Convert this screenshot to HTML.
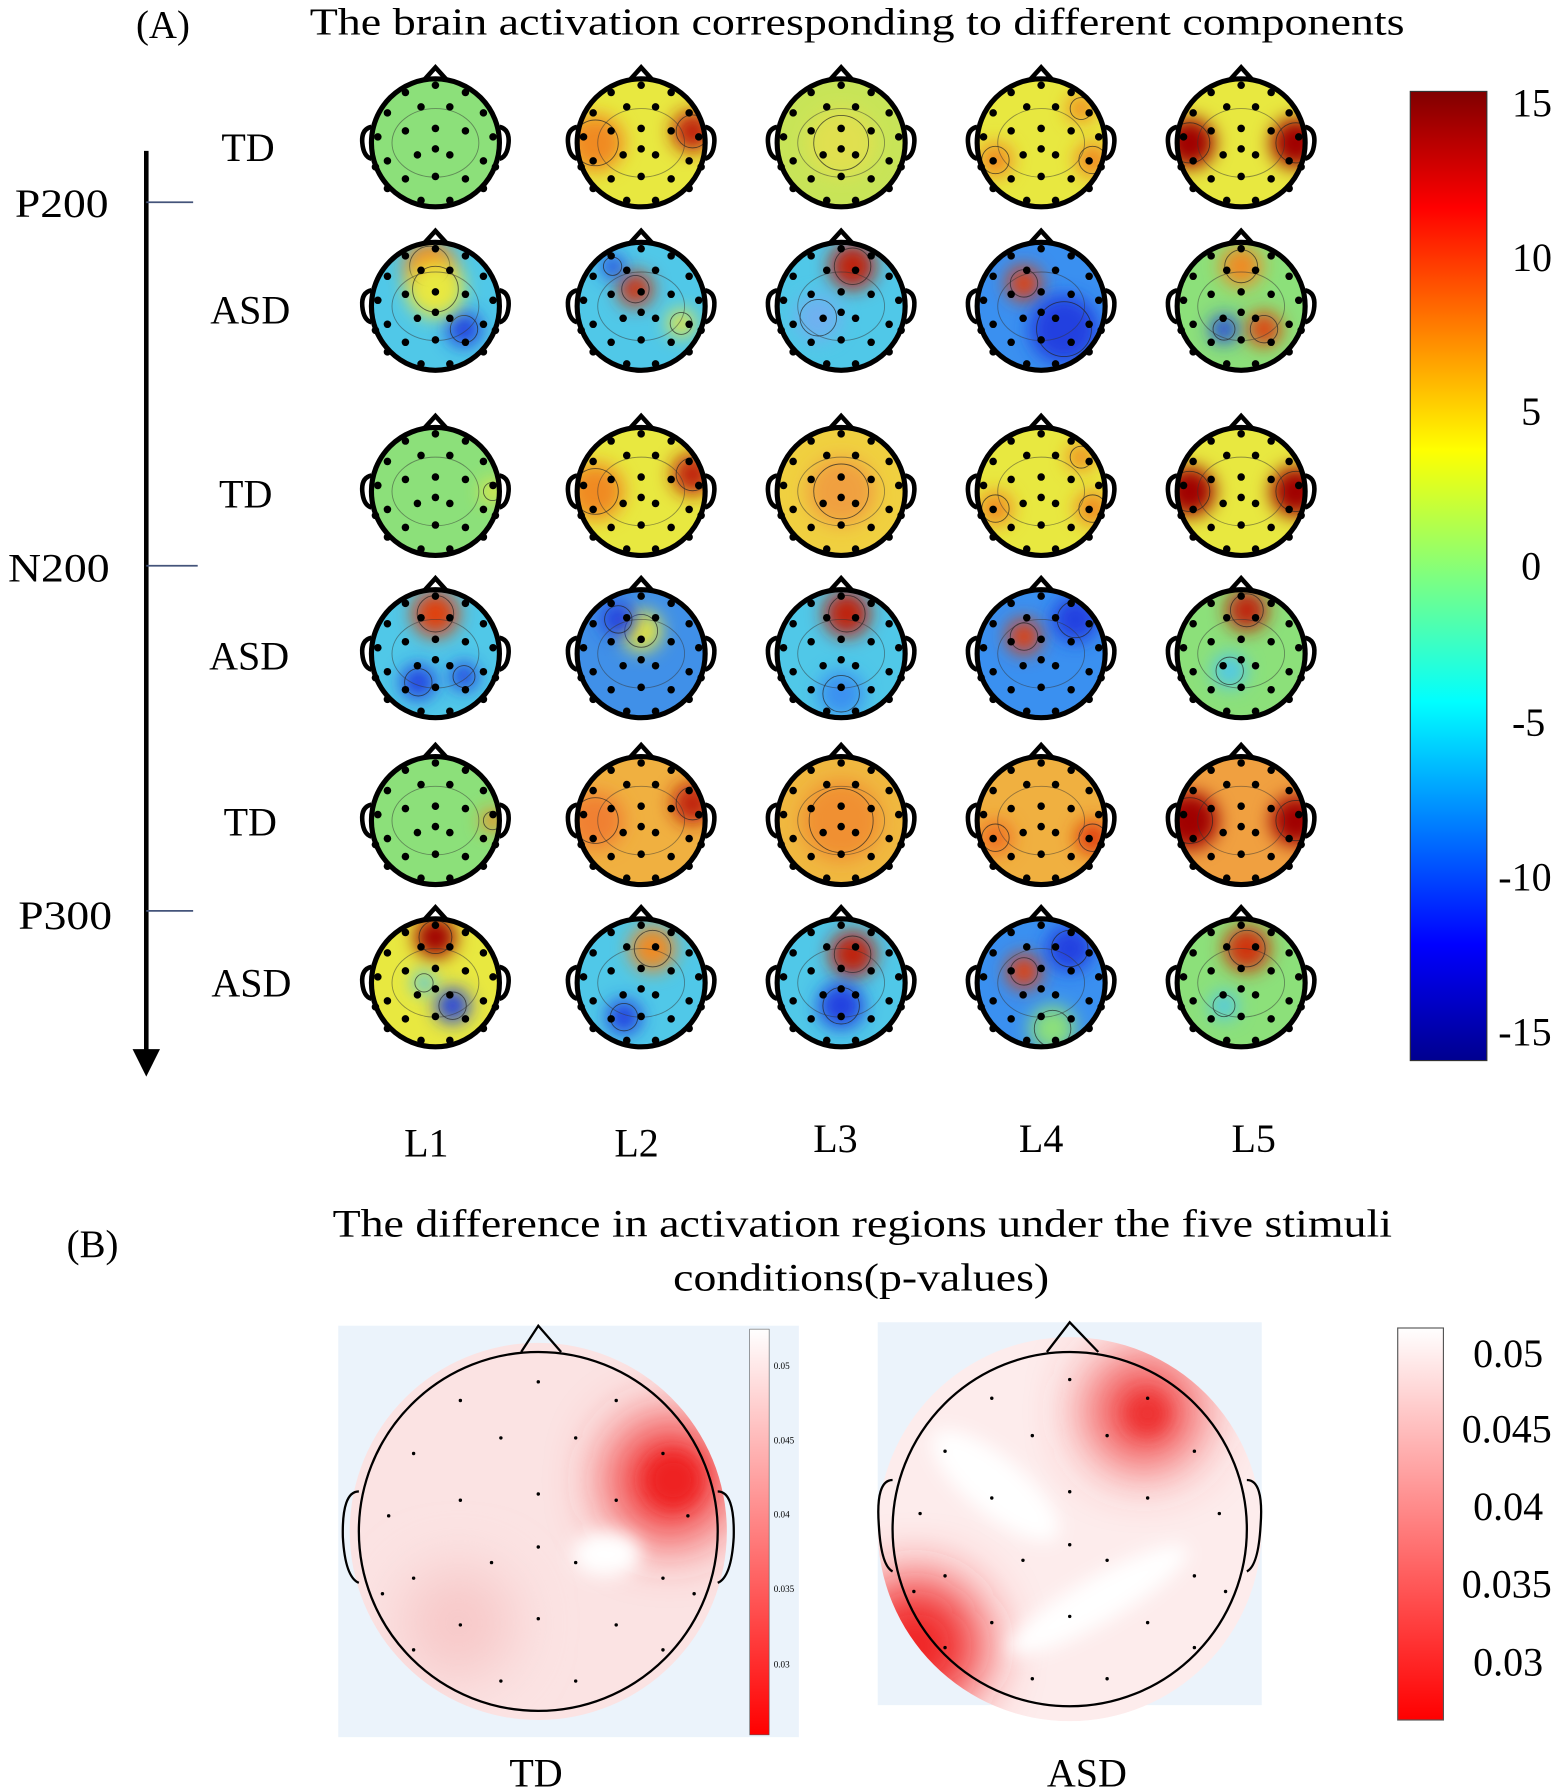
<!DOCTYPE html>
<html><head><meta charset="utf-8"><style>
html,body{margin:0;padding:0;background:#fff}
svg{display:block}
text{font-family:"Liberation Serif",serif;fill:#000}
</style></head><body>
<svg id="s" width="1568" height="1792" viewBox="0 0 1370 1568" xmlns="http://www.w3.org/2000/svg">
<defs>
<linearGradient id="jet" x1="0" y1="1" x2="0" y2="0">
<stop offset="0" stop-color="#00008f"/><stop offset="0.12" stop-color="#0000ff"/>
<stop offset="0.37" stop-color="#00ffff"/><stop offset="0.5" stop-color="#7fff7f"/>
<stop offset="0.63" stop-color="#ffff00"/><stop offset="0.88" stop-color="#ff0000"/>
<stop offset="1" stop-color="#800000"/></linearGradient>
<linearGradient id="wr" x1="0" y1="0" x2="0" y2="1">
<stop offset="0" stop-color="#ffffff"/><stop offset="1" stop-color="#ff0000"/></linearGradient>
<filter id="bl" x="-100%" y="-100%" width="300%" height="300%"><feGaussianBlur stdDeviation="8"/></filter>
<filter id="bl2" x="-100%" y="-100%" width="300%" height="300%"><feGaussianBlur stdDeviation="25"/></filter>
</defs>
<text x="118" y="33" font-size="34">(A)</text>
<text x="270" y="30" font-size="33" textLength="958" lengthAdjust="spacingAndGlyphs">The brain activation corresponding to different components</text>
<line x1="127" y1="132" x2="127" y2="920" stroke="#000" stroke-width="4"/>
<polygon points="115,918 139,918 127,942" fill="#000"/>
<line x1="127" y1="177" x2="168" y2="177" stroke="#44547a" stroke-width="1.5"/>
<line x1="127" y1="495" x2="172" y2="495" stroke="#44547a" stroke-width="1.5"/>
<line x1="127" y1="797" x2="168" y2="797" stroke="#44547a" stroke-width="1.5"/>
<text x="12" y="190" font-size="35" textLength="82" lengthAdjust="spacingAndGlyphs">P200</text>
<text x="6" y="509" font-size="35" textLength="89" lengthAdjust="spacingAndGlyphs">N200</text>
<text x="15" y="813" font-size="35" textLength="82" lengthAdjust="spacingAndGlyphs">P300</text>
<g font-size="35" text-anchor="middle">
<text x="216" y="141">TD</text><text x="218" y="283">ASD</text>
<text x="214" y="444">TD</text><text x="217" y="586">ASD</text>
<text x="218" y="731">TD</text><text x="219" y="872">ASD</text>
<text x="372" y="1012">L1</text><text x="556" y="1012">L2</text><text x="730" y="1008">L3</text><text x="910" y="1008">L4</text><text x="1096" y="1008">L5</text>
</g>
<g id="topo"></g>
<rect x="1233" y="80" width="67" height="848" fill="url(#jet)" stroke="#333"/>
<g font-size="35">
<text x="1322" y="102">15</text><text x="1322" y="237">10</text><text x="1330" y="372">5</text>
<text x="1330" y="507">0</text><text x="1322" y="644">-5</text><text x="1310" y="779">-10</text><text x="1310" y="915">-15</text>
</g>
<text x="80" y="1100" font-size="34" text-anchor="middle">(B)</text>
<text x="290" y="1082" font-size="34" textLength="927" lengthAdjust="spacingAndGlyphs">The difference in activation regions under the five stimuli</text>
<text x="588" y="1129" font-size="34" textLength="329" lengthAdjust="spacingAndGlyphs">conditions(p-values)</text>
<rect x="295" y="1160" width="403" height="360" fill="#ebf3fb"/>
<clipPath id="c1"><circle cx="470" cy="1340" r="165"/></clipPath>
<circle cx="470" cy="1340" r="165" fill="#fbe3e3"/>
<g clip-path="url(#c1)">
<circle cx="585" cy="1295" r="55" fill="#f03030" filter="url(#bl2)"/>
<circle cx="588" cy="1295" r="25" fill="#ee2020" filter="url(#bl)"/>
<circle cx="400" cy="1420" r="50" fill="#f7c8c8" filter="url(#bl2)"/>
<ellipse cx="530" cy="1360" rx="30" ry="20" fill="#fff" filter="url(#bl)"/>
</g>
<circle cx="470" cy="1340" r="157" fill="none" stroke="#000" stroke-width="2"/>
<polyline points="455,1183 470,1160 490,1183" fill="none" stroke="#000" stroke-width="2"/>
<path d="M313,1305 q-15,0 -14,40 q2,35 14,40" fill="none" stroke="#000" stroke-width="2"/>
<path d="M627,1305 q15,0 14,40 q-2,35 -14,40" fill="none" stroke="#000" stroke-width="2"/>
<rect x="655" y="1163" width="17" height="355" fill="url(#wr)" stroke="#555" stroke-width="0.5"/>
<g font-size="8" font-family="Liberation Sans"><text x="676" y="1198">0.05</text><text x="676" y="1263">0.045</text><text x="676" y="1328">0.04</text><text x="676" y="1393">0.035</text><text x="676" y="1459">0.03</text></g>
<text x="468" y="1563" font-size="35" text-anchor="middle">TD</text>
<rect x="767" y="1157" width="336" height="335" fill="#ebf3fb"/>
<clipPath id="c2"><circle cx="935" cy="1338" r="168"/></clipPath>
<circle cx="935" cy="1338" r="168" fill="#fdecec"/>
<g clip-path="url(#c2)">
<circle cx="1000" cy="1235" r="50" fill="#f04040" filter="url(#bl2)"/>
<circle cx="1003" cy="1237" r="18" fill="#ee3030" filter="url(#bl)"/>
<circle cx="800" cy="1440" r="60" fill="#f02020" filter="url(#bl2)"/>
<ellipse cx="870" cy="1300" rx="70" ry="25" transform="rotate(40 870 1300)" fill="#fff" filter="url(#bl)"/>
<ellipse cx="960" cy="1400" rx="90" ry="20" transform="rotate(-30 960 1400)" fill="#fff" filter="url(#bl)"/>
</g>
<circle cx="935" cy="1338" r="155" fill="none" stroke="#000" stroke-width="2"/>
<polyline points="915,1183 935,1157 960,1183" fill="none" stroke="#000" stroke-width="2"/>
<path d="M780,1295 q-15,0 -12,40 q2,35 12,40" fill="none" stroke="#000" stroke-width="2"/>
<path d="M1090,1295 q15,0 12,40 q-2,35 -12,40" fill="none" stroke="#000" stroke-width="2"/>
<rect x="1222" y="1162" width="40" height="343" fill="url(#wr)" stroke="#555"/>
<g font-size="35"><text x="1288" y="1196">0.05</text><text x="1278" y="1262">0.045</text><text x="1288" y="1330">0.04</text><text x="1278" y="1398">0.035</text><text x="1288" y="1466">0.03</text></g>
<text x="950" y="1563" font-size="35" text-anchor="middle">ASD</text>
<g id="dots2"></g>
</svg>
<script>
var ns="http://www.w3.org/2000/svg",g=document.getElementById("topo");
function el(t,a,p){var e=document.createElementNS(ns,t);for(var k in a)e.setAttribute(k,a[k]);(p||g).appendChild(e);return e;}
var cx=[380,560,735,910,1085],cy=[125,268,430,572,718,860];
var R="#a00000",O="#f08a20",Y="#e8e840",B="#2040e0",C="#50c8e8",G="#8ce07a",Bl="#3a90f0";
var data=[
 [[G,[]],[Y,[[45,-10,18,"#c02010"],[-40,0,25,O]]],["#c8e458",[[0,0,30,"#e0e050"]]],[Y,[[-40,15,15,O],[45,15,15,O],[35,-30,12,O]]],[Y,[[-45,0,22,R],[48,0,22,R]]]],
 [[C,[[-5,-35,22,O],[25,20,15,B],[0,-15,25,Y]]],[C,[[-5,-15,15,"#d03010"],[-25,-35,10,B],[35,15,12,Y]]],[C,[[10,-35,20,"#c02010"],[-20,10,20,"#70b0f0"]]],[Bl,[[-15,-20,15,"#e04010"],[20,20,30,B]]],[G,[[0,-35,18,O],[20,20,15,"#e04010"],[-15,20,12,B]]]],
 [[G,[[50,0,10,Y]]],[Y,[[45,-15,18,"#c02010"],[-40,0,25,O]]],["#f0d040",[[0,0,30,"#f0a040"]]],[Y,[[-40,15,15,O],[45,15,15,O],[35,-30,12,O]]],[Y,[[-45,0,22,R],[48,0,22,R]]]],
 [[C,[[0,-35,20,"#e04010"],[-15,25,15,B],[25,20,12,B]]],["#4090e8",[[0,-20,18,Y],[-20,-30,15,B]]],[C,[[5,-35,20,"#c02010"],[0,35,20,Bl]]],[Bl,[[-15,-15,15,"#e04010"],[30,-30,20,B]]],[G,[[5,-38,18,"#c02010"],[-10,15,15,C]]]],
 [[G,[[50,0,10,O]]],["#f0b040",[[45,-15,18,"#c02010"],[-40,0,25,"#f08030"]]],["#f0b840",[[0,0,35,"#f09030"]]],["#f0b040",[[-40,15,15,"#f07020"],[45,15,15,"#e04010"]]],["#f0a040",[[-45,0,25,R],[48,0,22,R]]]],
 [[Y,[[0,-40,18,R],[15,20,15,B],[-10,0,10,C]]],[C,[[10,-30,20,O],[-15,30,15,B]]],[C,[[10,-25,20,"#c02010"],[0,20,20,B]]],[Bl,[[-15,-10,15,"#e04010"],[25,-30,20,B],[10,40,20,G]]],[G,[[5,-30,20,"#d03010"],[-15,20,12,C]]]]
];
var dotp=[[0,-48],[-25,-42],[25,-42],[-40,-25],[-12,-30],[12,-30],[40,-25],[-48,-5],[-25,-10],[0,-12],[25,-10],[48,-5],[-40,15],[-15,10],[12,10],[40,15],[-25,30],[0,28],[25,30],[-40,38],[40,38],[-12,48],[12,48],[0,5],[-50,20],[50,20]];
var id=0;
for(var r=0;r<6;r++)for(var c=0;c<5;c++){
 var x=cx[c],y=cy[r],d=data[r][c];id++;
 var cp=el("clipPath",{id:"k"+id});el("circle",{cx:x,cy:y,r:56},cp);
 el("circle",{cx:x,cy:y,r:58,fill:"#e6f2fa"});
 var gg=el("g",{"clip-path":"url(#k"+id+")"});
 el("circle",{cx:x,cy:y,r:56,fill:d[0]},gg);
 d[1].forEach(function(b){el("circle",{cx:x+b[0],cy:y+b[1],r:b[2],fill:b[3],filter:"url(#bl)"},gg);
  el("circle",{cx:x+b[0],cy:y+b[1],r:b[2]*0.8,fill:"none",stroke:"#222","stroke-width":0.8,opacity:0.7},gg);});
 el("ellipse",{cx:x,cy:y,rx:38,ry:30,fill:"none",stroke:"#333","stroke-width":0.8,opacity:0.5},gg);
 el("circle",{cx:x,cy:y,r:56,fill:"none",stroke:"#000","stroke-width":4.5});
 el("polyline",{points:(x-10)+","+(y-55)+" "+x+","+(y-66)+" "+(x+10)+","+(y-55),fill:"none",stroke:"#000","stroke-width":4});
 el("path",{d:"M"+(x-56)+","+(y-14)+" q-9,2 -8,14 q1,12 8,14",fill:"none",stroke:"#000","stroke-width":4});
 el("path",{d:"M"+(x+56)+","+(y-14)+" q9,2 8,14 q-1,12 -8,14",fill:"none",stroke:"#000","stroke-width":4});
 dotp.forEach(function(p){el("circle",{cx:x+p[0]*1.05,cy:y+p[1]*1.05,r:3.3,fill:"#000"});});
}
var g2=document.getElementById("dots2");
[[470,1340,150],[935,1338,150]].forEach(function(h){dotp.forEach(function(p){el("circle",{cx:h[0]+p[0]*h[2]/55,cy:h[1]+p[1]*h[2]/55,r:1.5,fill:"#000"},g2);});});
</script>
</body></html>
